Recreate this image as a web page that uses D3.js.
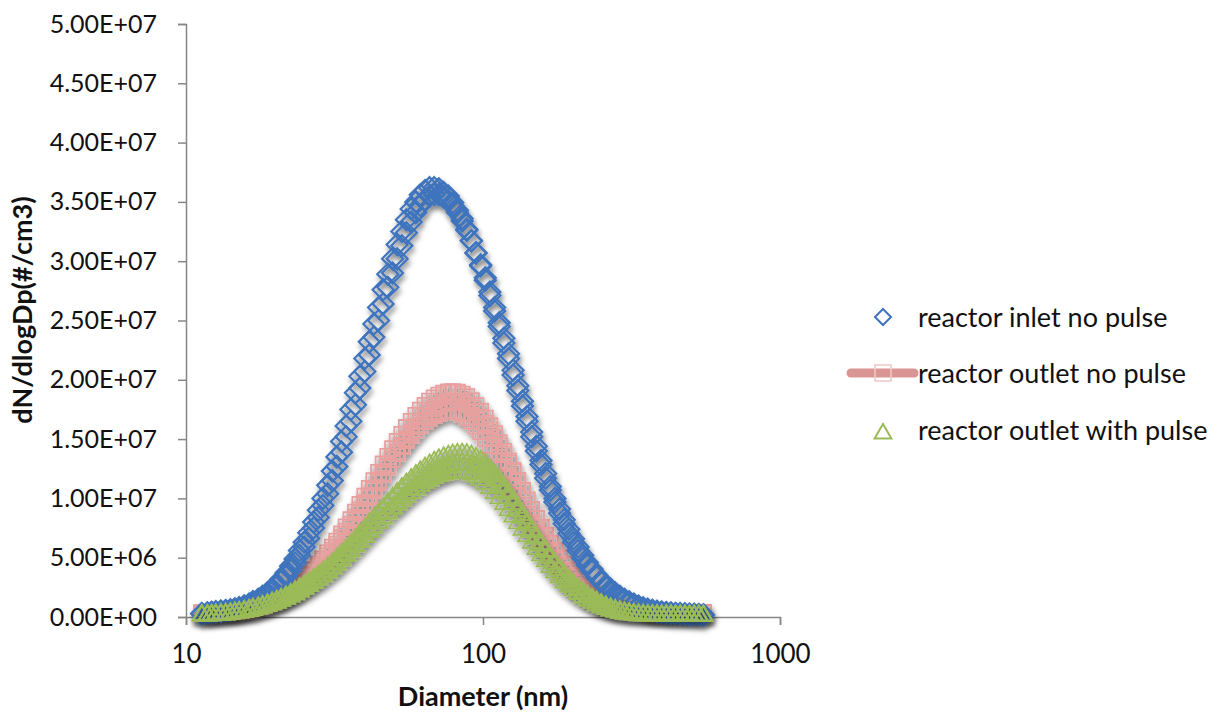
<!DOCTYPE html>
<html>
<head>
<meta charset="utf-8">
<script src="https://cdn.jsdelivr.net/npm/d3@7/dist/d3.min.js"></script>
<style>
  html, body { margin: 0; padding: 0; background: #fff; }
  svg { display: block; }
  text { font-family: Lato, "Open Sans", sans-serif; fill: #111; }
</style>
</head>
<body>
<svg id="chart" width="1218" height="715"></svg>
<script>
// SMPS channel midpoints (nm), 64 channels per decade
const diameterNm = [11.3, 11.8, 12.2, 12.6, 13.1, 13.6, 14.1, 14.6, 15.1, 15.7, 16.3, 16.8, 17.5, 18.1, 18.8, 19.5, 20.2, 20.9, 21.7, 22.5, 23.3, 24.1, 25.0, 25.9, 26.9, 27.9, 28.9, 30.0, 31.1, 32.2, 33.4, 34.6, 35.9, 37.2, 38.5, 40.0, 41.4, 42.9, 44.5, 46.1, 47.8, 49.6, 51.4, 53.3, 55.2, 57.3, 59.4, 61.5, 63.8, 66.1, 68.5, 71.0, 73.7, 76.4, 79.1, 82.0, 85.1, 88.2, 91.4, 94.7, 98.2, 101.8, 105.5, 109.4, 113.4, 117.6, 121.9, 126.3, 131.0, 135.8, 140.7, 145.9, 151.2, 156.8, 162.5, 168.5, 174.7, 181.1, 187.7, 194.6, 201.7, 209.1, 216.7, 224.7, 232.9, 241.4, 250.3, 259.5, 269.0, 278.8, 289.0, 299.6, 310.6, 322.0, 333.8, 346.0, 358.7, 371.8, 385.4, 399.5, 414.2, 429.4, 445.1, 461.4, 478.3, 495.8, 514.0, 532.8, 552.3];

// dN/dlogDp in units of 1e6 #/cm3, one array per scan
const inletScan1 = [0.3, 0.35, 0.4, 0.45, 0.5, 0.55, 0.6, 0.7, 0.8, 0.95, 1.1, 1.3, 1.5, 1.75, 2.05, 2.4, 2.8, 3.2, 3.7, 4.3, 4.9, 5.6, 6.3, 7.1, 8.0, 9.0, 10.0, 11.1, 12.3, 13.5, 14.8, 16.1, 17.5, 18.9, 20.3, 21.8, 23.2, 24.7, 26.1, 27.6, 28.9, 30.2, 31.4, 32.5, 33.5, 34.4, 35.0, 35.6, 35.95, 36.2, 36.2, 36.1, 35.8, 35.5, 34.95, 34.3, 33.6, 32.7, 31.75, 30.7, 29.6, 28.4, 27.1, 25.8, 24.5, 23.1, 21.8, 20.4, 19.1, 17.8, 16.5, 15.2, 14.0, 12.85, 11.7, 10.7, 9.7, 8.75, 7.87, 7.05, 6.3, 5.6, 4.95, 4.37, 3.85, 3.37, 2.94, 2.55, 2.21, 1.91, 1.64, 1.4, 1.2, 1.02, 0.86, 0.72, 0.61, 0.52, 0.45, 0.4, 0.36, 0.33, 0.3, 0.28, 0.26, 0.24, 0.22, 0.2, 0.18];
const inletScan2 = [0.28, 0.32, 0.37, 0.42, 0.47, 0.52, 0.57, 0.64, 0.74, 0.86, 1.0, 1.18, 1.38, 1.6, 1.88, 2.2, 2.57, 2.97, 3.42, 3.95, 4.55, 5.2, 5.9, 6.65, 7.5, 8.4, 9.4, 10.4, 11.5, 12.7, 13.9, 15.2, 16.5, 17.9, 19.3, 20.7, 22.1, 23.6, 25.0, 26.4, 27.8, 29.0, 30.2, 31.3, 32.4, 33.3, 34.1, 34.7, 35.2, 35.5, 35.6, 35.6, 35.4, 35.1, 34.7, 34.1, 33.4, 32.6, 31.7, 30.7, 29.7, 28.6, 27.4, 26.1, 24.8, 23.5, 22.2, 20.8, 19.5, 18.2, 16.9, 15.6, 14.4, 13.2, 12.1, 11.0, 10.0, 9.1, 8.2, 7.4, 6.6, 5.9, 5.2, 4.6, 4.05, 3.55, 3.1, 2.7, 2.35, 2.03, 1.75, 1.5, 1.28, 1.09, 0.93, 0.78, 0.66, 0.56, 0.48, 0.42, 0.37, 0.33, 0.3, 0.27, 0.25, 0.23, 0.21, 0.19, 0.17];

const outletScan1 = [0.35, 0.35, 0.36, 0.37, 0.38, 0.4, 0.42, 0.45, 0.5, 0.57, 0.67, 0.78, 0.9, 1.04, 1.19, 1.37, 1.56, 1.78, 2.02, 2.28, 2.57, 2.89, 3.22, 3.6, 4.0, 4.45, 4.9, 5.4, 5.9, 6.4, 7.0, 7.6, 8.2, 8.85, 9.5, 10.2, 10.85, 11.5, 12.2, 12.9, 13.55, 14.2, 14.8, 15.4, 15.98, 16.5, 17.0, 17.45, 17.85, 18.2, 18.48, 18.7, 18.87, 18.97, 19.0, 18.95, 18.8, 18.57, 18.24, 17.83, 17.33, 16.77, 16.13, 15.45, 14.7, 13.96, 13.17, 12.37, 11.52, 10.7, 9.87, 9.06, 8.29, 7.54, 6.83, 6.15, 5.51, 4.92, 4.37, 3.86, 3.4, 2.95, 2.57, 2.22, 1.91, 1.63, 1.39, 1.18, 1.0, 0.84, 0.7, 0.6, 0.52, 0.46, 0.42, 0.4, 0.38, 0.37, 0.36, 0.36, 0.35, 0.35, 0.35, 0.35, 0.35, 0.36, 0.36, 0.37, 0.38];
const outletScan2 = [0.34, 0.34, 0.34, 0.35, 0.36, 0.37, 0.39, 0.42, 0.46, 0.51, 0.59, 0.69, 0.8, 0.93, 1.07, 1.23, 1.4, 1.6, 1.82, 2.06, 2.32, 2.62, 2.93, 3.27, 3.64, 4.05, 4.48, 4.93, 5.41, 5.89, 6.42, 6.99, 7.57, 8.17, 8.79, 9.44, 10.08, 10.71, 11.35, 12.02, 12.67, 13.29, 13.89, 14.47, 15.03, 15.56, 16.05, 16.5, 16.91, 17.27, 17.57, 17.81, 18.0, 18.13, 18.19, 18.18, 18.08, 17.9, 17.63, 17.28, 16.84, 16.33, 15.76, 15.13, 14.44, 13.73, 13.0, 12.23, 11.44, 10.64, 9.85, 9.07, 8.31, 7.58, 6.88, 6.22, 5.59, 5.0, 4.45, 3.94, 3.48, 3.04, 2.64, 2.29, 1.98, 1.7, 1.45, 1.23, 1.04, 0.88, 0.74, 0.62, 0.54, 0.47, 0.42, 0.39, 0.37, 0.36, 0.35, 0.34, 0.34, 0.34, 0.34, 0.34, 0.34, 0.34, 0.34, 0.35, 0.36];
const outletScan3 = [0.32, 0.33, 0.33, 0.34, 0.36, 0.38, 0.4, 0.44, 0.49, 0.57, 0.66, 0.77, 0.89, 1.02, 1.17, 1.34, 1.53, 1.74, 1.97, 2.22, 2.5, 2.8, 3.12, 3.48, 3.87, 4.28, 4.72, 5.18, 5.63, 6.14, 6.69, 7.24, 7.81, 8.4, 9.02, 9.64, 10.24, 10.85, 11.5, 12.11, 12.71, 13.28, 13.83, 14.37, 14.88, 15.34, 15.78, 16.17, 16.51, 16.8, 17.03, 17.21, 17.33, 17.39, 17.38, 17.29, 17.12, 16.86, 16.52, 16.1, 15.62, 15.07, 14.46, 13.81, 13.13, 12.43, 11.7, 10.94, 10.18, 9.42, 8.67, 7.95, 7.25, 6.58, 5.94, 5.34, 4.78, 4.25, 3.77, 3.33, 2.91, 2.53, 2.19, 1.89, 1.62, 1.38, 1.18, 1.0, 0.84, 0.71, 0.6, 0.51, 0.45, 0.4, 0.38, 0.36, 0.34, 0.33, 0.33, 0.32, 0.32, 0.32, 0.32, 0.32, 0.32, 0.33, 0.33, 0.34, 0.35];

const pulseScan1 = [0.3, 0.3, 0.32, 0.34, 0.37, 0.4, 0.45, 0.5, 0.57, 0.65, 0.74, 0.84, 0.95, 1.07, 1.21, 1.36, 1.52, 1.69, 1.88, 2.09, 2.32, 2.55, 2.8, 3.06, 3.35, 3.65, 3.97, 4.31, 4.67, 5.04, 5.43, 5.83, 6.25, 6.68, 7.12, 7.55, 8.0, 8.43, 8.85, 9.3, 9.74, 10.17, 10.59, 11.0, 11.39, 11.76, 12.1, 12.42, 12.72, 12.99, 13.22, 13.43, 13.6, 13.73, 13.82, 13.88, 13.9, 13.86, 13.75, 13.56, 13.3, 12.98, 12.59, 12.16, 11.66, 11.14, 10.57, 9.98, 9.36, 8.74, 8.12, 7.5, 6.89, 6.3, 5.72, 5.16, 4.63, 4.13, 3.66, 3.22, 2.86, 2.5, 2.17, 1.88, 1.62, 1.39, 1.18, 1.0, 0.84, 0.71, 0.6, 0.51, 0.44, 0.39, 0.35, 0.32, 0.3, 0.29, 0.28, 0.28, 0.27, 0.27, 0.27, 0.27, 0.26, 0.26, 0.26, 0.26, 0.26];
const pulseScan2 = [0.28, 0.28, 0.29, 0.31, 0.33, 0.36, 0.4, 0.45, 0.5, 0.57, 0.65, 0.74, 0.84, 0.95, 1.07, 1.21, 1.35, 1.51, 1.68, 1.87, 2.07, 2.29, 2.51, 2.75, 3.01, 3.29, 3.58, 3.89, 4.22, 4.56, 4.92, 5.29, 5.68, 6.08, 6.49, 6.89, 7.31, 7.72, 8.12, 8.53, 8.95, 9.36, 9.76, 10.15, 10.52, 10.88, 11.21, 11.52, 11.82, 12.08, 12.32, 12.53, 12.7, 12.85, 12.95, 13.02, 13.06, 13.05, 12.98, 12.84, 12.62, 12.35, 12.02, 11.63, 11.2, 10.72, 10.2, 9.66, 9.09, 8.51, 7.92, 7.34, 6.76, 6.2, 5.65, 5.11, 4.6, 4.12, 3.66, 3.23, 2.86, 2.52, 2.19, 1.9, 1.65, 1.41, 1.21, 1.02, 0.86, 0.73, 0.62, 0.52, 0.45, 0.39, 0.35, 0.31, 0.29, 0.28, 0.27, 0.26, 0.26, 0.25, 0.25, 0.25, 0.25, 0.24, 0.24, 0.24, 0.24];
const pulseScan3 = [0.27, 0.28, 0.29, 0.32, 0.34, 0.38, 0.42, 0.48, 0.54, 0.62, 0.7, 0.8, 0.9, 1.01, 1.14, 1.28, 1.43, 1.59, 1.77, 1.96, 2.17, 2.38, 2.61, 2.85, 3.12, 3.39, 3.68, 4.0, 4.32, 4.66, 5.01, 5.38, 5.75, 6.14, 6.53, 6.92, 7.31, 7.69, 8.08, 8.47, 8.86, 9.24, 9.61, 9.96, 10.3, 10.62, 10.91, 11.19, 11.44, 11.66, 11.86, 12.03, 12.16, 12.26, 12.33, 12.36, 12.35, 12.29, 12.15, 11.95, 11.69, 11.38, 11.01, 10.6, 10.15, 9.66, 9.14, 8.61, 8.05, 7.5, 6.95, 6.4, 5.87, 5.35, 4.84, 4.36, 3.9, 3.47, 3.06, 2.71, 2.39, 2.08, 1.8, 1.56, 1.34, 1.14, 0.97, 0.82, 0.69, 0.58, 0.49, 0.42, 0.37, 0.33, 0.3, 0.28, 0.26, 0.25, 0.25, 0.24, 0.24, 0.24, 0.24, 0.24, 0.23, 0.23, 0.23, 0.23, 0.23];

const yTicks = [0, 5e6, 1e7, 1.5e7, 2e7, 2.5e7, 3e7, 3.5e7, 4e7, 4.5e7, 5e7];
const xTicks = [10, 100, 1000];
const seriesNames = ["reactor inlet no pulse", "reactor outlet no pulse", "reactor outlet with pulse"];

const svg = d3.select("#chart");

const x = d3.scaleLog().domain([10, 1000]).range([186, 780]);
const y = d3.scaleLinear().domain([0, 5e7]).range([617, 24]);

// soft drop shadow under the markers
const defs = svg.append("defs");
const sh = defs.append("filter").attr("id", "mshadow")
  .attr("x", "-10%").attr("y", "-10%").attr("width", "130%").attr("height", "130%");
sh.append("feDropShadow").attr("dx", 1.5).attr("dy", 4).attr("stdDeviation", 2.5)
  .attr("flood-color", "#000").attr("flood-opacity", 0.5);

const axisColor = "#868686";

// y axis
const yAxis = d3.axisLeft(y).tickValues(yTicks).tickSize(8).tickPadding(21)
  .tickFormat(v => v.toExponential(2).toUpperCase().replace(/E([+-])(\d)$/, "E$10$2"));
const gy = svg.append("g").attr("transform", "translate(186,0)").call(yAxis);
gy.select(".domain").attr("stroke", axisColor).attr("stroke-width", 1.5);
gy.selectAll(".tick line").attr("stroke", axisColor).attr("stroke-width", 1.5);
gy.selectAll(".tick text").style("font-size", "25px").attr("fill", "#111").style("font-family", "Lato");

// x axis
const xAxis = d3.axisBottom(x).tickValues(xTicks).tickSize(8).tickPadding(20)
  .tickFormat(d3.format("d"));
const gx = svg.append("g").attr("transform", "translate(0,617)").call(xAxis);
gx.select(".domain").attr("stroke", axisColor).attr("stroke-width", 1.5);
gx.selectAll(".tick line").attr("stroke", axisColor).attr("stroke-width", 1.5);
gx.selectAll(".tick text").style("font-size", "26px").attr("fill", "#111").style("font-family", "Lato");

// axis titles
svg.append("text").attr("transform", "translate(32,310) rotate(-90)")
  .attr("text-anchor", "middle").style("font-size", "27px").style("font-weight", "bold")
  .text("dN/dlogDp(#/cm3)");
svg.append("text").attr("x", 483).attr("y", 706)
  .attr("text-anchor", "middle").style("font-size", "27px").style("font-weight", "bold")
  .text("Diameter (nm)");

// marker shapes
const diamond = (cx, cy, r) => `M${cx},${cy - r}L${cx + r},${cy}L${cx},${cy + r}L${cx - r},${cy}Z`;
const square = (cx, cy, r) => `M${cx - r},${cy - r}h${2 * r}v${2 * r}h${-2 * r}Z`;
const triangle = (cx, cy, r) => `M${cx},${cy - r}L${cx + r * 1.05},${cy + r * 0.8}L${cx - r * 1.05},${cy + r * 0.8}Z`;

const plot = svg.append("g");

function drawScans(scans, shape, r, color, width) {
  const g = plot.append("g").attr("filter", "url(#mshadow)");
  scans.forEach(scan => {
    g.selectAll(null).data(scan).enter().append("path")
      .attr("d", (v, i) => shape(x(diameterNm[i]), y(v * 1e6), r))
      .attr("fill", "none").attr("stroke", color).attr("stroke-width", width);
  });
}

const blue = "#3f74bd", pink = "#e8a09e", green = "#9bbb59";
drawScans([outletScan1, outletScan2, outletScan3], square, 7.5, pink, 1.8);
drawScans([inletScan1, inletScan2], diamond, 10.5, blue, 2.2);
drawScans([pulseScan1, pulseScan2, pulseScan3], triangle, 8.5, green, 1.8);

// legend
const lg = svg.append("g");
lg.append("path").attr("d", diamond(883, 317, 8)).attr("fill", "none").attr("stroke", blue).attr("stroke-width", 2);
lg.append("line").attr("x1", 851).attr("x2", 914).attr("y1", 373).attr("y2", 373)
  .attr("stroke", "#d99593").attr("stroke-width", 9).attr("stroke-linecap", "round");
lg.append("path").attr("d", square(883, 373, 8)).attr("fill", "none").attr("stroke", "#f0c8c6").attr("stroke-width", 1.6);
lg.append("path").attr("d", triangle(883, 432, 8)).attr("fill", "none").attr("stroke", green).attr("stroke-width", 2);
const legendY = [327, 383, 440];
lg.selectAll("text.lab").data(seriesNames).enter().append("text")
  .attr("x", 918).attr("y", (d, i) => legendY[i])
  .style("font-size", "27px").text(d => d);
</script>
</body>
</html>
